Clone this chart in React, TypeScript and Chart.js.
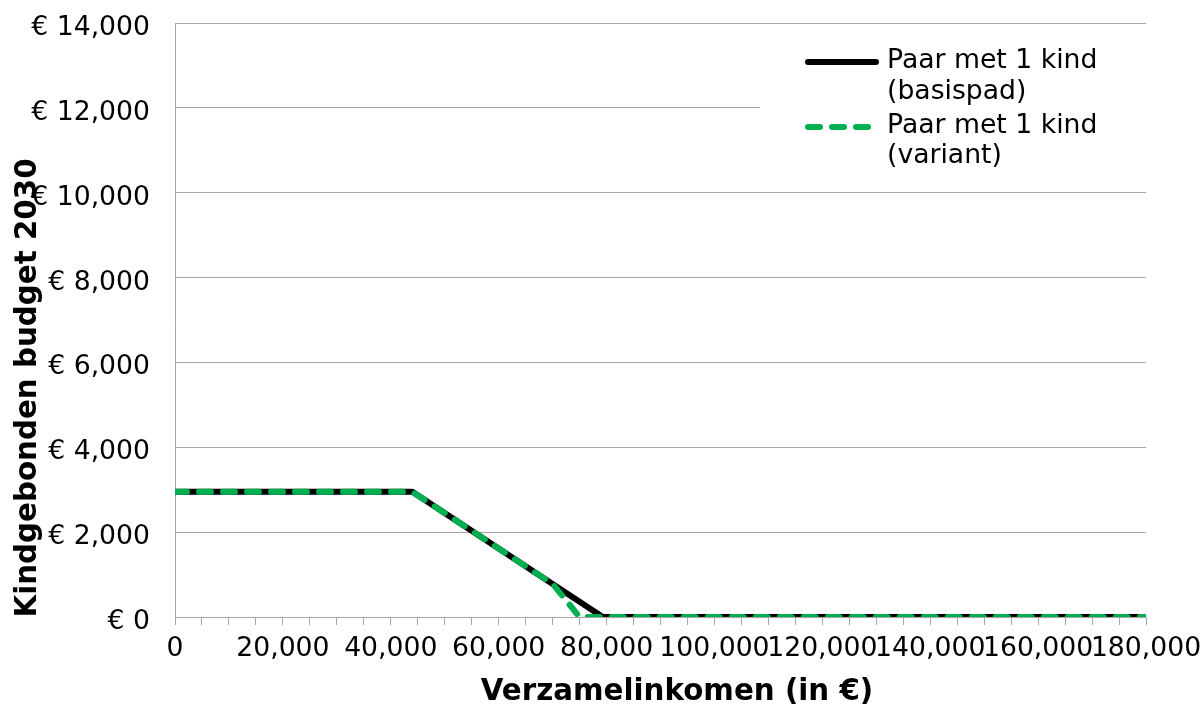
import React, { useEffect, useRef } from "react";
import { Chart, registerables } from "chart.js";

Chart.register(...registerables);

const xBase = [0, 44000, 79300, 180000];
const yBase = [2950, 2950, 0, 0];
const xVariant = [0, 44000, 70000, 75000, 180000];
const yVariant = [2950, 2950, 780, 0, 0];
const seriesLabels = [
  ["Paar met 1 kind", "(basispad)"],
  ["Paar met 1 kind", "(variant)"],
];
const xTitle = "Verzamelinkomen (in €)";
const yTitle = "Kindgebonden budget 2030";
const xMin = 0;
const xMax = 180000;
const xStep = 5000;
const xLabelStep = 20000;
const yMin = 0;
const yMax = 14000;
const yStep = 2000;

const FONT = "'DejaVu Sans', Verdana, sans-serif";
const GRID = "#a6a6a6";

const overlayPlugin = {
  id: "overlay",
  afterDraw(chart: any) {
    const ctx = chart.ctx as CanvasRenderingContext2D;
    ctx.save();
    // legend box
    ctx.fillStyle = "#ffffff";
    ctx.fillRect(760, 28, 443, 157);
    const items = chart.data.datasets;
    const sampleY = [62, 127];
    const baselines = [
      [68, 99],
      [133, 163],
    ];
    items.forEach((ds: any, i: number) => {
      ctx.save();
      ctx.strokeStyle = ds.borderColor;
      ctx.lineWidth = ds.borderWidth;
      ctx.lineCap = "round";
      ctx.setLineDash(ds.borderDash || []);
      ctx.beginPath();
      ctx.moveTo(808, sampleY[i]);
      ctx.lineTo(876, sampleY[i]);
      ctx.stroke();
      ctx.restore();
      ctx.fillStyle = "#000";
      ctx.font = `26.67px ${FONT}`;
      ctx.textAlign = "left";
      ctx.textBaseline = "alphabetic";
      seriesLabels[i].forEach((t, j) => ctx.fillText(t, 887, baselines[i][j]));
    });
    // axis titles
    ctx.fillStyle = "#000";
    ctx.font = `bold 29.33px ${FONT}`;
    ctx.textAlign = "center";
    ctx.textBaseline = "middle";
    ctx.fillText(xTitle, 677, 692);
    ctx.translate(28, 388);
    ctx.rotate(-Math.PI / 2);
    ctx.fillText(yTitle, 0, 0);
    ctx.restore();
  },
};

const zeroPad = (s: any) => {
  s.paddingTop = 0;
  s.paddingBottom = 0;
  s.paddingLeft = 0;
  s.paddingRight = 0;
};

export default function App() {
  const ref = useRef<HTMLCanvasElement | null>(null);
  useEffect(() => {
    document.body.style.margin = "0";
    const canvas = ref.current!;
    const chart = new Chart(canvas, {
      type: "line",
      data: {
        datasets: [
          {
            label: seriesLabels[0].join(" "),
            data: xBase.map((x, i) => ({ x, y: yBase[i] })),
            borderColor: "#000000",
            borderWidth: 6,
            borderCapStyle: "round",
            borderJoinStyle: "round",
            pointRadius: 0,
            tension: 0,
            fill: false,
            order: 2,
          },
          {
            label: seriesLabels[1].join(" "),
            data: xVariant.map((x, i) => ({ x, y: yVariant[i] })),
            borderColor: "#00b050",
            borderWidth: 6,
            borderDash: [12, 12],
            borderCapStyle: "round",
            borderJoinStyle: "round",
            pointRadius: 0,
            tension: 0,
            fill: false,
            order: 1,
          },
        ],
      },
      options: {
        responsive: false,
        animation: false,
        devicePixelRatio: 1,
        layout: { padding: { left: 0, right: 57, top: 23, bottom: 0 } },
        plugins: { legend: { display: false }, tooltip: { enabled: false } },
        scales: {
          x: {
            type: "linear",
            min: xMin,
            max: xMax,
            afterFit: (s: any) => {
              s.height = 90;
              zeroPad(s);
            },
            grid: {
              drawOnChartArea: false,
              drawTicks: true,
              tickLength: 8,
              color: GRID,
            },
            border: { color: GRID, width: 1 },
            ticks: {
              stepSize: xStep,
              autoSkip: false,
              maxRotation: 0,
              minRotation: 0,
              padding: 8,
              color: "#000",
              font: { family: FONT, size: 26.67 },
              callback: (v: any) =>
                Number(v) % xLabelStep === 0 ? Number(v).toLocaleString("en-US") : "",
            },
          },
          y: {
            min: yMin,
            max: yMax,
            afterFit: (s: any) => {
              s.width = 175;
              zeroPad(s);
            },
            grid: { color: GRID, drawTicks: false },
            border: { color: GRID, width: 1 },
            ticks: {
              stepSize: yStep,
              padding: 25,
              labelOffset: 5,
              color: "#000",
              font: { family: FONT, size: 26.67 },
              callback: (v: any) => "€ " + Number(v).toLocaleString("en-US"),
            },
          },
        },
      },
      plugins: [overlayPlugin],
    } as any);
    return () => chart.destroy();
  }, []);
  return <canvas ref={ref} width={1203} height={707} style={{ display: "block" }} />;
}
